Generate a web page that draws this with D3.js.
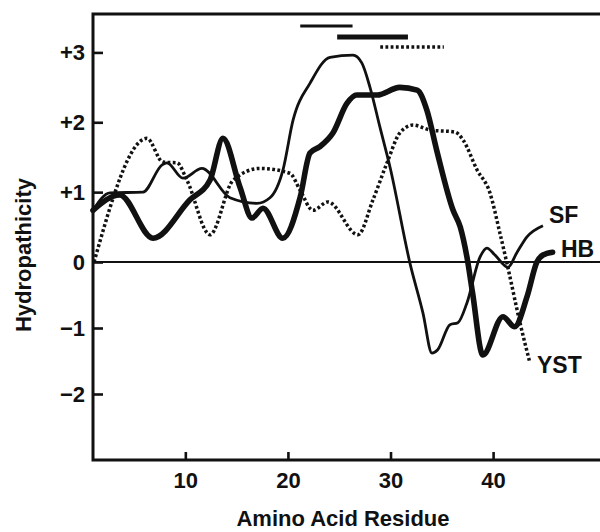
<!DOCTYPE html>
<html>
<head>
<meta charset="utf-8">
<script src="https://cdn.jsdelivr.net/npm/d3@7"></script>
<style>
  html, body { margin: 0; padding: 0; background: #fff; }
  svg { display: block; }
  text { font-family: "Liberation Sans", Arial, Helvetica, sans-serif; font-weight: bold; fill: #111; }
</style>
</head>
<body>
<svg id="chart" width="600" height="532"></svg>
<script>
// ---- Data ----
const xTicks = [10, 20, 30, 40];
const yTicks = [3, 2, 1, 0, -1, -2];
const yTickLabels = ["+3", "+2", "+1", "0", "\u22121", "\u22122"];

// Thick solid line: HB
const hbResidue = [1, 3.6, 6.85, 10.45, 12.4, 13.67, 15.33, 16.5, 17.57, 19.5, 21.2, 22.15, 23.1, 24.4, 25.75, 26.7, 28.7, 30.9, 32.6, 33.55, 34.5, 36.1, 36.8, 37.45, 38.0, 39.0, 40.96, 42.1, 43.3, 44.27, 44.86, 45.8];
const hbValue   = [0.74, 0.96, 0.34, 0.89, 1.17, 1.77, 1.07, 0.63, 0.77, 0.34, 0.93, 1.56, 1.65, 1.85, 2.27, 2.39, 2.39, 2.5, 2.46, 2.17, 1.6, 0.74, 0.5, 0.07, -0.47, -1.41, -0.83, -0.98, -0.53, 0.0, 0.1, 0.14];

// Thin solid line: SF
const sfResidue = [1, 2.66, 5.87, 7.73, 8.21, 9.77, 11.62, 14.35, 16.98, 18.25, 19.52, 20.5, 22.16, 24.1, 26.34, 27.2, 28.0, 28.97, 29.95, 31.9, 33.16, 34.04, 34.6, 35.8, 36.57, 37.45, 38.72, 39.4, 40.18, 41.45, 42.3, 43.3, 44.86];
const sfValue   = [0.74, 0.99, 1.0, 1.39, 1.42, 1.2, 1.34, 0.92, 0.84, 0.92, 1.32, 2.03, 2.56, 2.93, 2.96, 2.85, 2.5, 1.93, 1.36, -0.02, -0.77, -1.38, -1.33, -0.95, -0.92, -0.62, 0.07, 0.2, 0.1, -0.08, 0.13, 0.36, 0.52];

// Dotted line: YST
const ystResidue = [1.1, 6.26, 7.82, 9.19, 10.16, 12.4, 14.65, 17.28, 20.2, 21.18, 22.44, 23.9, 26.83, 28.29, 29.66, 30.92, 32.19, 33.85, 36.28, 37.06, 38.43, 39.69, 40.67, 41.35, 42.62, 43.59];
const ystValue   = [0.0, 1.77, 1.43, 1.42, 1.17, 0.39, 1.17, 1.34, 1.27, 1.03, 0.74, 0.86, 0.39, 0.89, 1.42, 1.85, 1.96, 1.89, 1.86, 1.75, 1.32, 0.99, 0.41, -0.02, -0.92, -1.53];

// Segment bars above the plot (start residue, end residue)
const barSeries = ["SF", "HB", "YST"];
const barStart  = [21.2, 24.8, 29.0];
const barEnd    = [26.3, 31.7, 35.2];

// Series labels
const seriesNames = ["SF", "HB", "YST"];

// ---- Drawing ----
const svg = d3.select("#chart");
const L = 93, R = 600, T = 14, B = 460;

const x = d3.scaleLinear().domain([1, 50.42]).range([L, R]);
const y = d3.scaleLinear().domain([-3, 0, 3.55]).range([B, 262, T]);

// zero line
svg.append("line")
  .attr("x1", L).attr("x2", R)
  .attr("y1", y(0)).attr("y2", y(0))
  .attr("stroke", "#111").attr("stroke-width", 2.2);

// axes
const yAxis = d3.axisLeft(y).tickValues(yTicks)
  .tickFormat((d, i) => yTickLabels[i]).tickSize(-10).tickPadding(8);
const gy = svg.append("g").attr("transform", `translate(${L},0)`).call(yAxis);
gy.select(".domain").remove();
gy.selectAll(".tick line").attr("stroke", "#111").attr("stroke-width", 2.6);
gy.selectAll(".tick text").style("font-size", "22px").attr("fill", "#111");

const xAxis = d3.axisBottom(x).tickValues(xTicks).tickSize(-8).tickPadding(12);
const gx = svg.append("g").attr("transform", `translate(0,${B})`).call(xAxis);
gx.select(".domain").remove();
gx.selectAll(".tick line").attr("stroke", "#111").attr("stroke-width", 2.6);
gx.selectAll(".tick text").style("font-size", "22px").attr("fill", "#111");

// frame (right edge lies outside the picture)
svg.append("path")
  .attr("d", `M${R + 5},${T}H${L}V${B}H${R + 5}`)
  .attr("fill", "none").attr("stroke", "#111").attr("stroke-width", 3);

// curves
const line = d3.line().x(d => x(d[0])).y(d => y(d[1])).curve(d3.curveMonotoneX);
const zip = (a, b) => a.map((v, i) => [v, b[i]]);

svg.append("path").datum(zip(ystResidue, ystValue))
  .attr("d", line).attr("fill", "none").attr("stroke", "#111")
  .attr("stroke-width", 3.5).attr("stroke-dasharray", "2.8,2.4");

svg.append("path").datum(zip(sfResidue, sfValue))
  .attr("d", line).attr("fill", "none").attr("stroke", "#111")
  .attr("stroke-width", 2.8).attr("stroke-linejoin", "round");

svg.append("path").datum(zip(hbResidue, hbValue))
  .attr("d", line).attr("fill", "none").attr("stroke", "#111")
  .attr("stroke-width", 5.6).attr("stroke-linejoin", "round").attr("stroke-linecap", "round");

// bars above
const barY = { SF: 26, HB: 37, YST: 47 };
const barW = { SF: 2.8, HB: 5, YST: 3.4 };
barSeries.forEach((s, i) => {
  const ln = svg.append("line")
    .attr("x1", x(barStart[i])).attr("x2", x(barEnd[i]))
    .attr("y1", barY[s]).attr("y2", barY[s])
    .attr("stroke", "#111").attr("stroke-width", barW[s]);
  if (s === "YST") ln.attr("stroke-dasharray", "2.8,2.4");
});

// series labels
const labelPos = { SF: [549, 223], HB: [561, 257], YST: [537, 373] };
seriesNames.forEach(s => {
  svg.append("text").attr("x", labelPos[s][0]).attr("y", labelPos[s][1])
    .style("font-size", "23px").text(s);
});

// axis titles
svg.append("text").attr("x", 343).attr("y", 526).attr("text-anchor", "middle")
  .style("font-size", "22px").text("Amino Acid Residue");
svg.append("text").attr("transform", "translate(31,255) rotate(-90)")
  .attr("text-anchor", "middle").style("font-size", "22px").text("Hydropathicity");
</script>
</body>
</html>
